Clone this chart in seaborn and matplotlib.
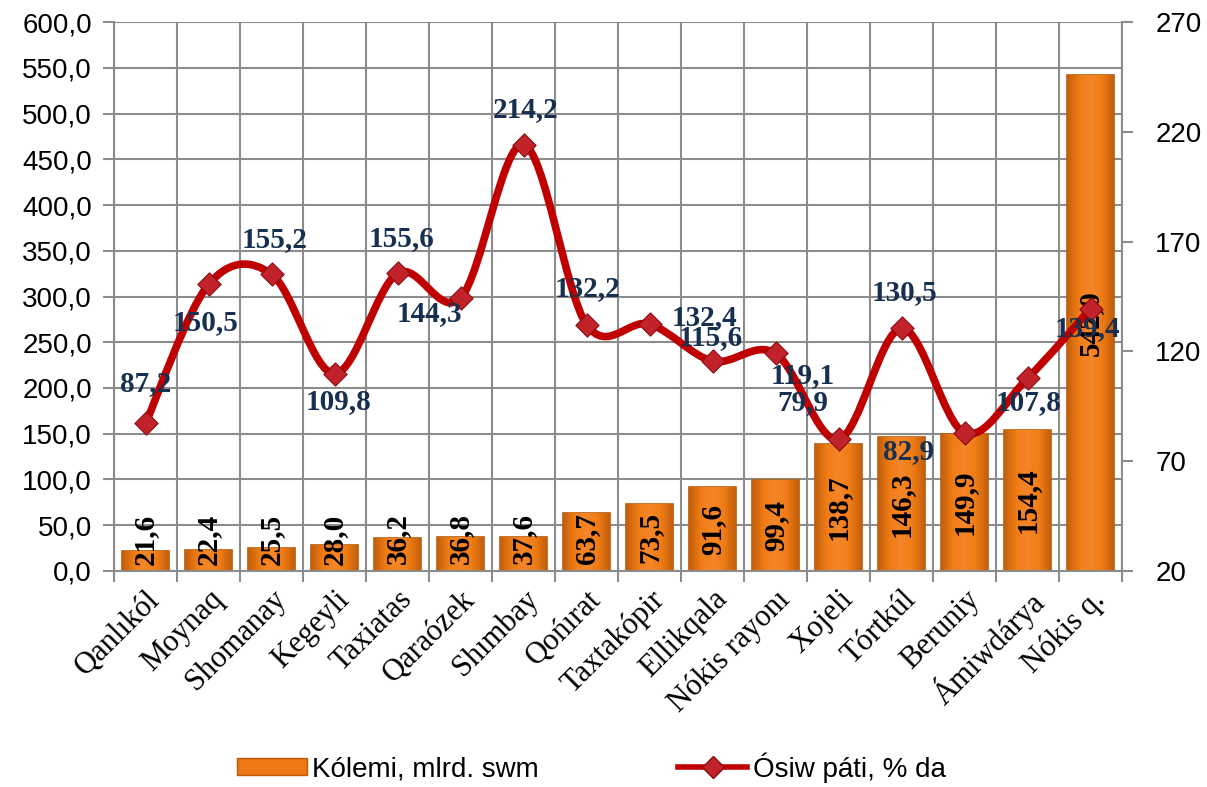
import numpy as np
import pandas as pd
import matplotlib
matplotlib.use("Agg")
import matplotlib.pyplot as plt
import seaborn as sns
from matplotlib.path import Path
from matplotlib.patches import PathPatch, Patch
from matplotlib.lines import Line2D
from matplotlib.colors import LinearSegmentedColormap
from matplotlib.ticker import FuncFormatter

# Data
districts = ["Qanlıkól", "Moynaq", "Shomanay", "Kegeyli", "Taxiatas", "Qaraózek",
             "Shımbay", "Qońırat", "Taxtakópir", "Ellikqala", "Nókis rayonı",
             "Xojeli", "Tórtkúl", "Beruniy", "Ámiwdárya", "Nókis q."]
volume = [21.6, 22.4, 25.5, 28.0, 36.2, 36.8, 37.6, 63.7, 73.5, 91.6, 99.4,
          138.7, 146.3, 149.9, 154.4, 542.0]
growth = [87.2, 150.5, 155.2, 109.8, 155.6, 144.3, 214.2, 132.2, 132.4, 115.6,
          119.1, 79.9, 130.5, 82.9, 107.8, 139.4]
left_ticks = np.arange(0, 601, 50)
right_ticks = np.arange(20, 271, 50)
bar_name = "Kólemi, mlrd. swm"
line_name = "Ósiw páti, % da"

# where each growth label sits relative to its marker (pixels)
growth_offsets = [(0, 40), (-3, -38), (3, 35), (4, -28), (4, 35), (-31, -16),
                  (2, 35), (1, 36), (55, 7), (-2, 24), (27, -22), (-36, 37),
                  (3, 36), (-56, -19), (1, -24), (-3, -20)]

GRID = "#8c8c8c"
ORANGE = "#ee7712"
EDGE = "#b85c0c"
RED = "#c00000"
NAVY = "#17304f"
SERIF = "Liberation Serif"
SANS = "Liberation Sans"

plt.rcParams["font.family"] = SANS

# dark sides, bright middle, like the bevelled Excel bars
bar_cmap = LinearSegmentedColormap.from_list(
    "bevel", ["#c45f0c", "#f07c14", "#f5862a", "#f07c14", "#c45f0c"])


def fmt_comma(v, pos=None):
    return f"{v:.1f}".replace(".", ",")


def smooth_path(xs, ys):
    # Excel-like smoothed line: Catmull-Rom converted to cubic Bezier segments
    pts = np.column_stack([xs, ys]).astype(float)
    p = np.vstack([pts[0], pts, pts[-1]])
    verts = [pts[0]]
    codes = [Path.MOVETO]
    for i in range(1, len(p) - 2):
        c1 = p[i] + (p[i + 1] - p[i - 1]) / 6
        c2 = p[i + 1] - (p[i + 2] - p[i]) / 6
        verts += [c1, c2, p[i + 1]]
        codes += [Path.CURVE4] * 3
    return Path(verts, codes)


df = pd.DataFrame({"district": districts, "volume": volume, "growth": growth})
pos = np.arange(len(districts))

fig, ax = plt.subplots(figsize=(12.07, 7.87), dpi=100)
fig.subplots_adjust(left=0.0945, right=0.9296, top=0.972, bottom=0.2745)

sns.barplot(data=df, x="district", y="volume", ax=ax, color=ORANGE,
            saturation=1, width=0.74, edgecolor=EDGE, linewidth=1.2,
            zorder=2)
ax.set_axisbelow(True)

# shade every bar with a side-to-side gradient clipped to the bar itself
grad = np.linspace(0, 1, 64).reshape(1, -1)
for bar in ax.patches:
    x0, y0 = bar.get_x(), bar.get_y()
    w, h = bar.get_width(), bar.get_height()
    im = ax.imshow(grad, cmap=bar_cmap, aspect="auto", zorder=2.1,
                   extent=(x0, x0 + w, y0, y0 + h), interpolation="bicubic")
    im.set_clip_path(bar)

# bar value labels (vertical, bold serif)
for i, v in enumerate(volume):
    ax.text(i, max(v / 2, 35), fmt_comma(v), rotation=90, ha="center",
            va="center", fontsize=21, fontweight="bold", family=SERIF,
            color="black", zorder=3)

ax.set_ylim(0, 600)
ax.set_yticks(left_ticks)
ax.yaxis.set_major_formatter(FuncFormatter(fmt_comma))
ax.set_xlim(-0.5, len(districts) - 0.5)
ax.set_xticks(pos)
ax.set_xticklabels(districts, rotation=45, ha="right", rotation_mode="anchor",
                   fontsize=22, family=SERIF)
ax.set_xticks(np.arange(-0.5, len(districts), 1), minor=True)
ax.tick_params(axis="x", which="major", length=0, pad=10)
ax.tick_params(axis="x", which="minor", length=8, width=1.5, color=GRID)
ax.tick_params(axis="y", length=8, width=1.5, color=GRID, labelsize=20, pad=8)
ax.grid(axis="y", which="major", color=GRID, linewidth=1.5)
ax.grid(axis="x", which="minor", color=GRID, linewidth=1.5)
ax.set_xlabel("")
ax.set_ylabel("")
for side in ["left", "bottom"]:
    ax.spines[side].set_color(GRID)
    ax.spines[side].set_linewidth(1.5)
ax.spines["top"].set_visible(False)
ax.spines["right"].set_visible(False)

# growth line on the right axis
ax2 = ax.twinx()
ax2.add_patch(PathPatch(smooth_path(pos, growth), facecolor="none",
                        edgecolor=RED, linewidth=5.5, capstyle="round",
                        zorder=4))
sns.scatterplot(x=pos, y=growth, ax=ax2, marker="D", s=140, color="#c2232b",
                edgecolor="#8a0a10", linewidth=0.8, zorder=5)
for i, (v, (dx, dy)) in enumerate(zip(growth, growth_offsets)):
    ax2.annotate(fmt_comma(v), (i, v), xytext=(dx, dy),
                 textcoords="offset pixels", ha="center", va="center",
                 fontsize=21, fontweight="bold", family=SERIF, color=NAVY,
                 zorder=6)
ax2.set_ylim(20, 270)
ax2.set_yticks(right_ticks)
ax2.set_xlim(-0.5, len(districts) - 0.5)
ax2.tick_params(axis="y", length=8, width=1.5, color=GRID, labelsize=20, pad=16)
ax2.set_ylabel("")
ax2.grid(False)
ax2.spines["right"].set_color(GRID)
ax2.spines["right"].set_linewidth(1.5)
for side in ["top", "left", "bottom"]:
    ax2.spines[side].set_visible(False)

handles = [Patch(facecolor=ORANGE, edgecolor=EDGE, label=bar_name),
           Line2D([], [], color=RED, linewidth=4, marker="D", markersize=11,
                  markerfacecolor="#c2232b", markeredgecolor="#8a0a10",
                  label=line_name)]
fig.legend(handles=handles, loc="center", bbox_to_anchor=(0.49, 0.025),
           ncol=2, frameon=False, fontsize=20, handlelength=2.5,
           handleheight=0.55, columnspacing=5.0, handletextpad=0.2)

fig.savefig("out.png", dpi=100)
